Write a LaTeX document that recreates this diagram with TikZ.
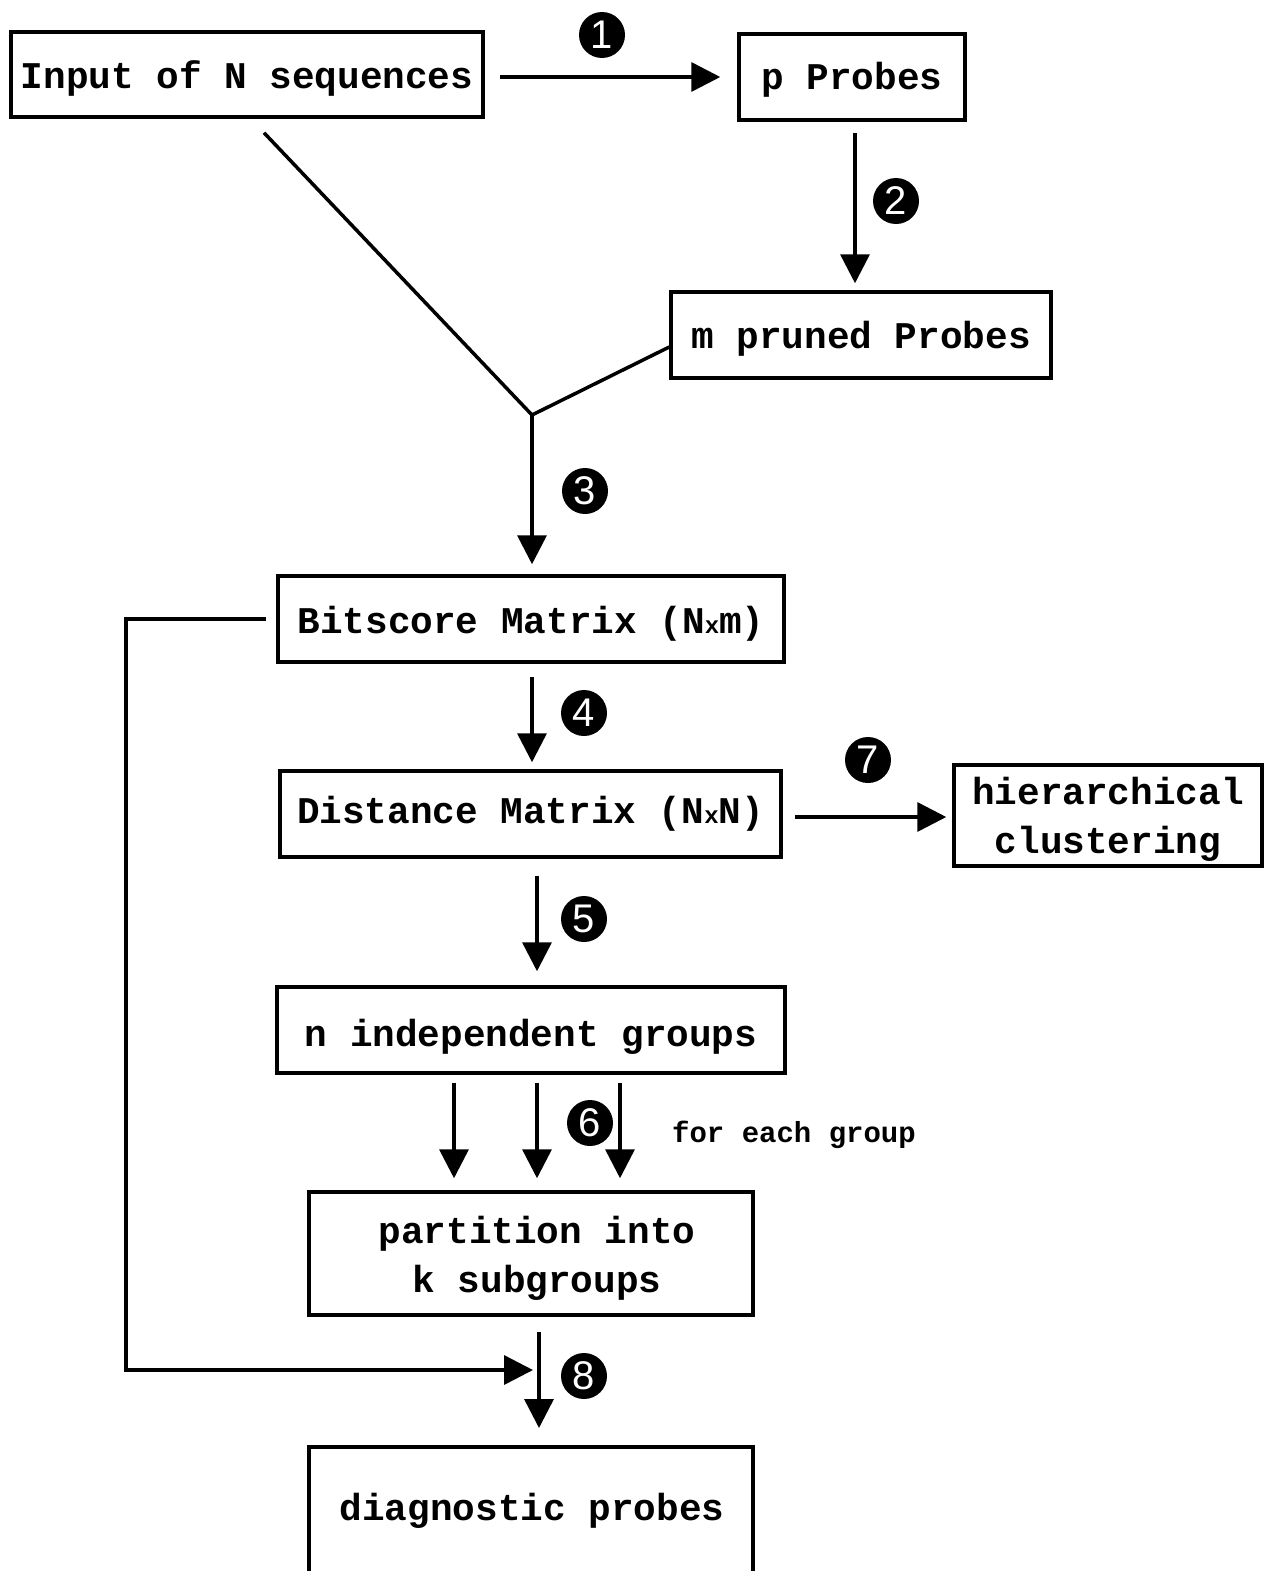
\documentclass[tikz,border=0pt]{standalone}
\usepackage{fontspec}
\setmonofont{Liberation Mono}
\newfontfamily\numfont{Liberation Sans}
\usetikzlibrary{arrows.meta}
\newcommand\lowr[2]{\raisebox{-#1}[\height][\depth]{#2}}
\begin{document}
\begin{tikzpicture}[x=1pt,y=-1pt,
 box/.style={draw, line width=3.5pt, inner sep=2pt, align=center,
   font=\ttfamily\bfseries\fontsize{37.7}{50}\selectfont},
 txt/.style={inner sep=2pt, align=center, font=\ttfamily\bfseries\fontsize{37.7}{49}\selectfont},
 arr/.style={line width=3.5pt, -{Triangle[length=29pt,width=29pt]}},
 ln/.style={line width=3.5pt},
 num/.style={circle, fill=black, inner sep=0pt, minimum size=46pt, text=white,
   font=\numfont\fontsize{40}{40}\selectfont}]
\useasboundingbox (0,0) rectangle (1265,1571);
% boxes
\node[box, minimum width=472pt, minimum height=85pt] (in) at (247,74.5) {\lowr{4pt}{Input of N sequences}};
\node[box, minimum width=226pt, minimum height=86pt] (pp) at (852,77) {\lowr{3pt}{p Probes}};
\node[box, minimum width=380pt, minimum height=86pt] (mp) at (861,335) {\lowr{4pt}{m pruned Probes}};
\node[box, minimum width=506pt, minimum height=86pt] (bs) at (531,619) {\lowr{5pt}{Bitscore Matrix (N{\fontsize{24}{50}\selectfont x}m)}};
\node[box, minimum width=501pt, minimum height=86pt] (dm) at (530.5,814) {Distance Matrix (N{\fontsize{24}{50}\selectfont x}N)};
\node[box, minimum width=308pt, minimum height=101pt] (hc) at (1108,815.5) {};
\node[txt] (hct) at ([yshift=-4pt]hc.center) {hierarchical\\clustering};
\node[box, minimum width=508pt, minimum height=86pt] (ng) at (531,1030) {\lowr{7pt}{n independent groups}};
\node[box, minimum width=444pt, minimum height=123pt] (part) at (531,1253.5) {};
\node[txt] (partt) at ([xshift=6pt,yshift=-5pt]part.center) {partition into\\k subgroups};
\node[txt] (diag) at (532,1511) {diagnostic probes};
\draw[ln] (309,1580) |- (753,1447) -- (753,1580);
\coordinate (dtop) at (531,1447);
\node[txt, font=\ttfamily\bfseries\fontsize{29}{35}\selectfont] (feg) at (794,1135) {for each group};
% junction and feedback points
\coordinate (j) at (532,415);
\coordinate (fb) at (126,1370);
\coordinate (m8) at ([xshift=2pt]part.south);
% connectors
\draw[arr, shorten <=15pt, shorten >=17pt] (in.east |- pp.west) -- (pp.west);
\draw[arr, shorten <=11pt, shorten >=7pt] ([xshift=3pt]pp.south) -- ([xshift=3pt]pp.south |- mp.north);
\draw[ln] ([xshift=17pt,yshift=-14pt]in.south) -- (j) -- ([yshift=-12pt]mp.west);
\draw[arr, shorten >=10pt] (j) -- (j |- bs.north);
\draw[arr, shorten <=13pt, shorten >=7pt] ([xshift=1pt]bs.south) -- ([xshift=1pt]bs.south |- dm.north);
\draw[arr, shorten <=12pt, shorten >=6pt] ([yshift=-3pt]dm.east) -- ([yshift=-3pt]dm.east -| hc.west);
\draw[arr, shorten <=17pt, shorten >=14pt] ([xshift=6.5pt]dm.south) -- ([xshift=6.5pt]dm.south |- ng.north);
\foreach \dx in {-77,6,89}
  \draw[arr, shorten <=8pt, shorten >=12pt] ([xshift=\dx pt]ng.south) -- ([xshift=\dx pt]ng.south |- part.north);
\draw[arr, shorten <=15pt, shorten >=19pt] ([xshift=8pt]part.south) -- ([xshift=8pt]dtop);
\draw[arr, shorten <=10pt] (bs.west) -| (fb) -- (fb -| m8);
% step numbers
\node[num] (n1) at (602,35) {1};
\node[num] (n2) at (896,201) {2};
\node[num] (n3) at (585,491) {3};
\node[num] (n4) at (584,713) {4};
\node[num] (n7) at (868,760) {7};
\node[num] (n5) at (584,919) {5};
\node[num] (n6) at (590,1123) {6};
\node[num] (n8) at (584,1376) {8};
\end{tikzpicture}
\end{document}
